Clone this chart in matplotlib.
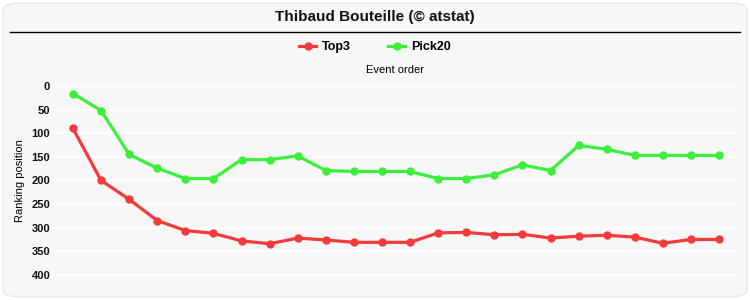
import matplotlib
matplotlib.use("Agg")
import matplotlib.pyplot as plt
from matplotlib.patches import FancyBboxPatch
from matplotlib.lines import Line2D

# data (ranking positions per event)
events = list(range(1, 25))
top3 = [90, 200, 240, 285, 306, 312, 328, 334, 322, 326, 331, 331,
        331, 311, 310, 315, 314, 322, 318, 316, 320, 333, 325, 325]
pick20 = [16, 52, 145, 174, 196, 196, 156, 156, 148, 179, 181, 181,
          181, 196, 196, 188, 167, 179, 126, 134, 147, 147, 147, 147]
yticks = [0, 50, 100, 150, 200, 250, 300, 350, 400]

red = "#f43a3a"
green = "#3cef3c"
bg = "#f7f7f7"

plt.rcParams['font.family'] = ['Liberation Sans', 'DejaVu Sans']

fig = plt.figure(figsize=(7.5, 3), dpi=100)
fig.patch.set_facecolor("white")
card = FancyBboxPatch((0.004, 0.01), 0.992, 0.98, boxstyle="round,pad=0,rounding_size=0.025",
                      transform=fig.transFigure, facecolor=bg, edgecolor="#e6e6e6", lw=0.8,
                      zorder=-10)
fig.patches.append(card)

fig.text(0.5, 0.943, "Thibaud Bouteille (\u00a9 atstat)", ha="center", va="center",
         fontsize=11, fontweight="bold", color="#111111")
fig.add_artist(Line2D([0.013, 0.987], [0.893, 0.893], transform=fig.transFigure,
                      color="black", lw=1))

ax = fig.add_axes([0.0707, 0.06, 0.912, 0.677])
ax.set_facecolor(bg)
ax.plot(events, top3, color=red, lw=2.3, marker="o", ms=5, label="Top3")
ax.plot(events, pick20, color=green, lw=2.3, marker="o", ms=5, label="Pick20")

ax.set_xlim(0.29, 24.64)
ax.set_ylim(415, -15)
ax.set_yticks(yticks)
ax.set_yticklabels([str(v) for v in yticks], fontweight="bold", fontsize=8, color="#111111")
ax.set_xticks([])
ax.tick_params(axis="y", length=0, pad=2)
ax.yaxis.grid(True, color="white", lw=1.2)
ax.set_axisbelow(True)
for s in ax.spines.values():
    s.set_visible(False)

ax.set_ylabel("Ranking position", fontsize=8, labelpad=5)
ax.xaxis.set_label_position("top")
ax.set_xlabel("Event order", fontsize=8, labelpad=4)

fig.legend(loc="center", bbox_to_anchor=(0.5, 0.842), ncol=2, frameon=False,
           prop={"weight": "bold", "size": 9}, handlelength=1.3, columnspacing=3,
           handletextpad=0.5)

fig.savefig("out.png", dpi=100, facecolor=fig.get_facecolor())
